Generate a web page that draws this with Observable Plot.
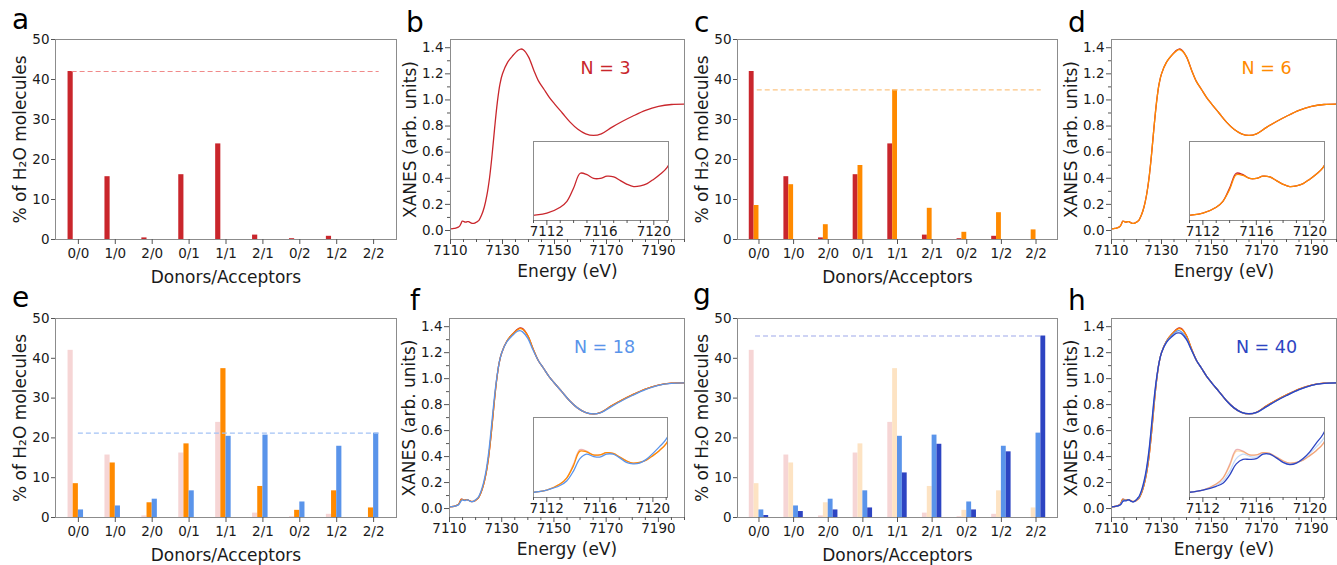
<!DOCTYPE html>
<html><head><meta charset="utf-8">
<script src="https://cdn.jsdelivr.net/npm/d3@7"></script>
<script src="https://cdn.jsdelivr.net/npm/@observablehq/plot@0.6"></script>
<style>
body{margin:0;background:#fff;}
#fig{position:relative;width:1337px;height:565px;overflow:hidden;font-family:"DejaVu Sans",sans-serif;background:#fff;}
.letter{position:absolute;font-family:"DejaVu Sans",sans-serif;font-size:28px;line-height:1;color:#000;}
</style></head><body><div id="fig"></div>
<script>
// ---------- data ----------
const categories = ["0/0","1/0","2/0","0/1","1/1","2/1","0/2","1/2","2/2"];
const pctN3  = [42.0, 15.7, 0.4, 16.2, 23.9, 1.1, 0.2, 0.8, 0.0];
const pctN6  = [8.5, 13.7, 3.7, 18.5, 37.4, 7.8, 1.8, 6.7, 2.4];
const pctN18 = [1.9, 2.9, 4.6, 6.7, 20.4, 20.7, 3.9, 17.9, 21.2];
const pctN40 = [0.5, 1.5, 1.9, 2.4, 11.2, 18.4, 1.9, 16.5, 45.6];
const pctTicks = [0, 10, 20, 30, 40, 50];

const energy = [7110, 7111, 7112, 7113, 7113.5, 7114, 7114.5, 7115, 7115.5, 7116, 7116.5, 7117, 7117.5, 7118, 7118.5, 7119, 7119.5, 7120, 7120.5, 7121,
  7122, 7123, 7124, 7125, 7126, 7127, 7128, 7129, 7130, 7132, 7134, 7136, 7137, 7138, 7140, 7142, 7144, 7146, 7148, 7150,
  7153, 7156, 7159, 7162, 7165, 7168, 7172, 7176, 7180, 7185, 7190, 7195, 7200];
const xanesN3 = [0.013, 0.015, 0.018, 0.026, 0.034, 0.052, 0.072, 0.070, 0.065, 0.065, 0.068, 0.067, 0.062, 0.057, 0.054, 0.055, 0.058, 0.064, 0.071, 0.080,
  0.12, 0.18, 0.27, 0.40, 0.58, 0.79, 0.98, 1.12, 1.20, 1.29, 1.34, 1.38, 1.39, 1.385, 1.33, 1.23, 1.14, 1.08, 1.02, 0.97,
  0.90, 0.83, 0.775, 0.74, 0.728, 0.74, 0.79, 0.835, 0.875, 0.92, 0.95, 0.965, 0.968];
const xanesN6 = [0.013, 0.015, 0.018, 0.026, 0.034, 0.050, 0.070, 0.069, 0.065, 0.065, 0.068, 0.067, 0.062, 0.057, 0.054, 0.055, 0.058, 0.064, 0.071, 0.080,
  0.12, 0.18, 0.27, 0.40, 0.58, 0.79, 0.98, 1.12, 1.20, 1.29, 1.34, 1.375, 1.385, 1.38, 1.33, 1.23, 1.14, 1.08, 1.02, 0.97,
  0.90, 0.83, 0.775, 0.74, 0.728, 0.74, 0.79, 0.835, 0.875, 0.92, 0.95, 0.965, 0.968];
const xanesN18 = [0.013, 0.015, 0.018, 0.024, 0.030, 0.043, 0.060, 0.066, 0.063, 0.062, 0.066, 0.066, 0.061, 0.055, 0.053, 0.054, 0.059, 0.067, 0.076, 0.086,
  0.13, 0.195, 0.29, 0.43, 0.62, 0.82, 0.99, 1.12, 1.20, 1.285, 1.33, 1.365, 1.37, 1.36, 1.31, 1.22, 1.14, 1.08, 1.02, 0.97,
  0.90, 0.83, 0.775, 0.74, 0.728, 0.738, 0.785, 0.83, 0.87, 0.915, 0.948, 0.963, 0.967];
const xanesN40 = [0.013, 0.015, 0.018, 0.023, 0.027, 0.038, 0.053, 0.059, 0.059, 0.060, 0.066, 0.066, 0.061, 0.055, 0.052, 0.054, 0.060, 0.069, 0.081, 0.093,
  0.14, 0.21, 0.31, 0.45, 0.64, 0.84, 1.00, 1.12, 1.20, 1.28, 1.32, 1.35, 1.352, 1.345, 1.30, 1.22, 1.14, 1.08, 1.02, 0.97,
  0.90, 0.83, 0.775, 0.74, 0.73, 0.74, 0.785, 0.83, 0.87, 0.915, 0.948, 0.963, 0.967];

const energyTicks = [7110, 7130, 7150, 7170, 7190];
const energyMinor = [7115, 7120, 7125, 7135, 7140, 7145, 7155, 7160, 7165, 7175, 7180, 7185, 7195, 7200];
const xanesTicks = [0, 0.2, 0.4, 0.6, 0.8, 1.0, 1.2, 1.4];
const xanesMinor = [0.1, 0.3, 0.5, 0.7, 0.9, 1.1, 1.3];
const insetTicks = [7112, 7116, 7120];
const insetMinor = [7111, 7113, 7114, 7115, 7117, 7118, 7119, 7121];

const nLabels = ["N = 3", "N = 6", "N = 18", "N = 40"];

// ---------- styles ----------
const RED = "#c9262c", ORANGE = "#ff8a00", BLUE = "#5a94ea", DBLUE = "#2d44c2";
const RED_F = "#f6d5d5", ORANGE_F = "#fde3c3";
const FRAME = "#8c8c8c", TICK = "#555", TXT = "#1a1a1a";
const BW = 0.14;
const FONT = "DejaVu Sans";
const intFmt = d => String(d);

const fig = document.getElementById("fig");
function place(node, left, top) {
  node.style.position = "absolute";
  node.style.left = left + "px";
  node.style.top = top + "px";
  fig.appendChild(node);
}
function letter(t, x, y) {
  const d = document.createElement("div");
  d.className = "letter"; d.textContent = t;
  d.style.left = x + "px"; d.style.top = y + "px";
  fig.appendChild(d);
}
const baseStyle = {background: "transparent", overflow: "visible", fontFamily: FONT, fontSize: "13.5px", color: TXT};

function barPanel(f, series, dash) {
  const mL = 60, mR = 6, mT = 6, mB = 50;
  const rows = [];
  series.forEach(s => s.values.forEach((v, i) => rows.push({i, slot: s.slot, v, color: s.color})));
  const p = Plot.plot({
    width: f.w + mL + mR, height: f.h + mT + mB,
    marginLeft: mL, marginRight: mR, marginTop: mT, marginBottom: mB,
    style: baseStyle,
    x: {domain: [-0.62, 8.62], label: null},
    y: {domain: [0, 50], label: null},
    color: {type: "identity"},
    marks: [
      Plot.rect(rows, {x1: d => d.i + (d.slot - 2) * BW, x2: d => d.i + (d.slot - 1) * BW, y1: 0, y2: "v", fill: "color"}),
      Plot.ruleY([dash.value], {x1: dash.from, x2: 8.15, stroke: dash.color, strokeDasharray: "5,3", strokeWidth: 1.2}),
      Plot.frame({stroke: FRAME}),
      Plot.axisX(categories.map((c, i) => i), {tickFormat: i => categories[i], tickSize: 5, tickPadding: 4, stroke: TICK, label: null}),
      Plot.axisY(pctTicks, {tickSize: 4, tickPadding: 2, stroke: TICK, label: null}),
      Plot.text(["% of H₂O molecules"], {frameAnchor: "left", dx: -35, rotate: -90, textAnchor: "middle", lineAnchor: "middle", fontSize: 17, fill: TXT}),
      Plot.text(["Donors/Acceptors"], {frameAnchor: "bottom", dy: 38, textAnchor: "middle", lineAnchor: "middle", fontSize: 17, fill: TXT})
    ]
  });
  place(p, f.left - mL, f.top - mT);
}

function lineMarks(series, faded) {
  return series.map(s => Plot.line(energy, {
    x: d => d, y: (d, i) => s.values[i], stroke: s.color, strokeWidth: 1.3,
    strokeOpacity: faded && s.fade ? 0.35 : 1, curve: "catmull-rom", clip: true
  }));
}

function xanesPanel(f, series, label, labelColor, ins) {
  const mL = 60, mR = f.mR ?? 6, mT = 6, mB = 45;
  const p = Plot.plot({
    width: f.w + mL + mR, height: f.h + mT + mB,
    marginLeft: mL, marginRight: mR, marginTop: mT, marginBottom: mB,
    style: baseStyle,
    x: {domain: [7110, 7200], label: null},
    y: {domain: [-0.069, 1.463], label: null},
    marks: [
      ...lineMarks(series, false),
      Plot.frame({stroke: FRAME}),
      Plot.axisX(energyTicks, {tickSize: 5, tickPadding: 1, tickFormat: intFmt, stroke: TICK, label: null}),
      Plot.axisX(energyMinor, {tickSize: 3, tickFormat: () => "", stroke: TICK, label: null}),
      Plot.axisY(xanesTicks, {tickSize: 5, tickPadding: 2, tickFormat: d3.format(".1f"), stroke: TICK, label: null}),
      Plot.axisY(xanesMinor, {tickSize: 3, tickFormat: () => "", stroke: TICK, label: null}),
      Plot.text(["XANES (arb. units)"], {frameAnchor: "left", dx: -40, rotate: -90, textAnchor: "middle", lineAnchor: "middle", fontSize: 17, fill: TXT}),
      Plot.text(["Energy (eV)"], {frameAnchor: "bottom", dy: 32, textAnchor: "middle", lineAnchor: "middle", fontSize: 17, fill: TXT}),
      Plot.text([label], {frameAnchor: "top-left", dx: 155, dy: 29, textAnchor: "middle", lineAnchor: "middle", fontSize: 17.5, fill: labelColor})
    ]
  });
  place(p, f.left - mL, f.top - mT);
  // inset
  const iL = 4, iR = 4, iT = 4, iB = 24;
  const q = Plot.plot({
    width: ins.w + iL + iR, height: ins.h + iT + iB,
    marginLeft: iL, marginRight: iR, marginTop: iT, marginBottom: iB,
    style: baseStyle,
    x: {domain: [7111, 7121.1], label: null},
    y: {domain: [0.008, 0.115], label: null, axis: null},
    marks: [
      Plot.frame({fill: "white", stroke: FRAME}),
      ...lineMarks(series, true),
      Plot.frame({stroke: FRAME}),
      Plot.axisX(insetTicks, {tickSize: 5, tickPadding: 1, tickFormat: intFmt, stroke: TICK, label: null}),
      Plot.axisX(insetMinor, {tickSize: 3, tickFormat: () => "", stroke: TICK, label: null})
    ]
  });
  place(q, ins.left - iL, ins.top - iT);
}

// ---------- panels ----------
barPanel({left: 55, top: 39, w: 341, h: 200},
  [{slot: 0, values: pctN3, color: RED}],
  {value: 42.0, from: -0.17, color: "#f08a8a"});
xanesPanel({left: 450, top: 39, w: 234, h: 200},
  [{values: xanesN3, color: RED}], nLabels[0], RED,
  {left: 533, top: 141, w: 135, h: 79});
barPanel({left: 737, top: 39, w: 320, h: 200},
  [{slot: 0, values: pctN3, color: RED}, {slot: 1, values: pctN6, color: ORANGE}],
  {value: 37.4, from: -0.05, color: "#fdc584"});
xanesPanel({left: 1111, top: 39, w: 225, h: 200, mR: 1},
  [{values: xanesN3, color: RED}, {values: xanesN6, color: ORANGE}], nLabels[1], ORANGE,
  {left: 1189, top: 141, w: 135, h: 79});

barPanel({left: 55, top: 318, w: 341, h: 199},
  [{slot: 0, values: pctN3, color: RED_F}, {slot: 1, values: pctN6, color: ORANGE}, {slot: 2, values: pctN18, color: BLUE}],
  {value: 21.2, from: 0.0, color: "#a3c2f5"});
xanesPanel({left: 449, top: 318, w: 235, h: 199},
  [{values: xanesN3, color: RED, fade: true}, {values: xanesN6, color: ORANGE}, {values: xanesN18, color: BLUE}], nLabels[2], BLUE,
  {left: 533, top: 417, w: 134, h: 80});
barPanel({left: 737, top: 318, w: 320, h: 199},
  [{slot: 0, values: pctN3, color: RED_F}, {slot: 1, values: pctN6, color: ORANGE_F}, {slot: 2, values: pctN18, color: BLUE}, {slot: 3, values: pctN40, color: DBLUE}],
  {value: 45.6, from: -0.1, color: "#9ea8ea"});
xanesPanel({left: 1111, top: 318, w: 225, h: 199, mR: 1},
  [{values: xanesN3, color: RED, fade: true}, {values: xanesN6, color: ORANGE, fade: true}, {values: xanesN18, color: BLUE, fade: true}, {values: xanesN40, color: DBLUE}], nLabels[3], DBLUE,
  {left: 1189, top: 417, w: 135, h: 80});

letter("a", 12, 6); letter("b", 406, 9); letter("c", 694, 9); letter("d", 1068, 9);
letter("e", 12, 284); letter("f", 410, 287); letter("g", 693, 281); letter("h", 1068, 287);
</script></body></html>
